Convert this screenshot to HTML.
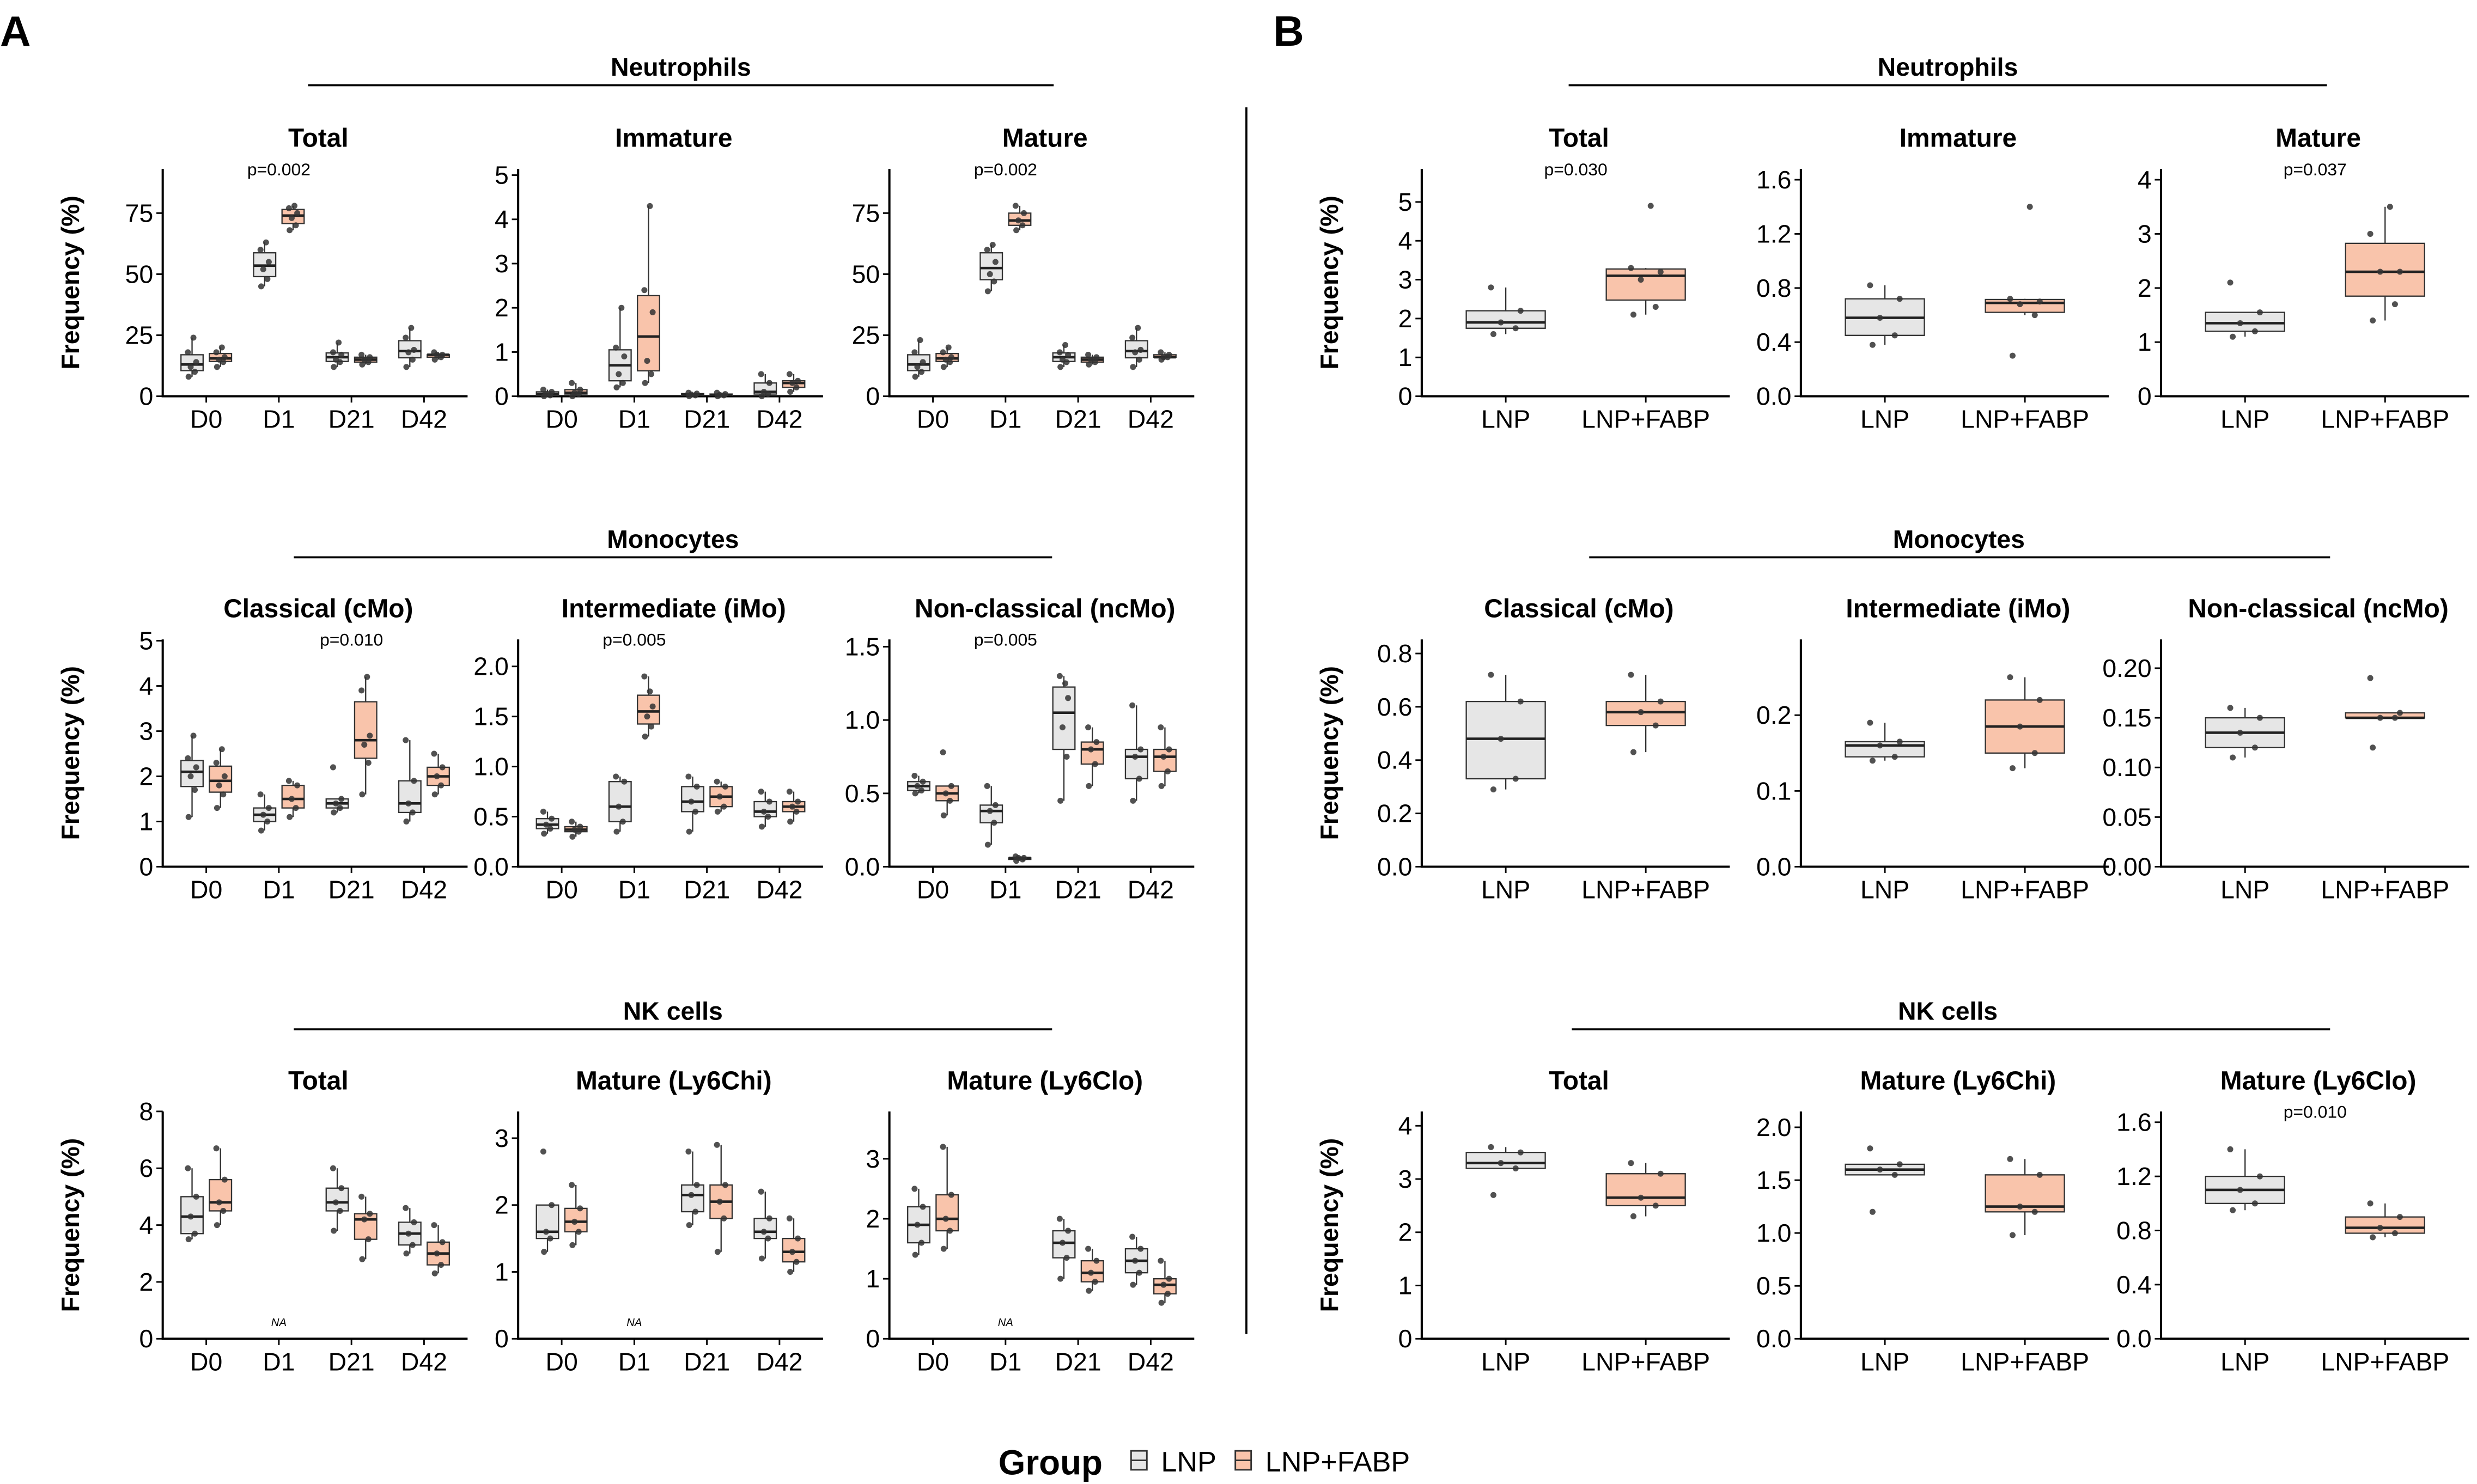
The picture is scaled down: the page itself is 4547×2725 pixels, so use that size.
<!DOCTYPE html>
<html><head><meta charset="utf-8">
<style>
html,body{margin:0;padding:0;background:#fff;}
svg{display:block;font-family:"Liberation Sans",Arial,sans-serif;}
</style></head>
<body>
<svg id="fig" width="4547" height="2725" viewBox="0 0 1568 940" preserveAspectRatio="none" xmlns="http://www.w3.org/2000/svg">
<text x="0" y="29" font-size="27" font-weight="bold">A</text>
<text x="806" y="29" font-size="27" font-weight="bold">B</text>
<line x1="789" y1="68" x2="789" y2="845" stroke="#000" stroke-width="1.3"/>
<g>
<text x="632" y="934" font-size="22" font-weight="bold">Group</text>
<rect x="716" y="919" width="10" height="12" fill="#e6e6e6" stroke="#333" stroke-width="1"/>
<line x1="716" y1="925" x2="726" y2="925" stroke="#333"/>
<text x="735" y="932" font-size="18">LNP</text>
<rect x="782" y="919" width="10" height="12" fill="#f9c4ab" stroke="#333" stroke-width="1"/>
<line x1="782" y1="925" x2="792" y2="925" stroke="#333"/>
<text x="801" y="932" font-size="18">LNP+FABP</text>
</g>
</svg>
<script>
// ---- categories ----
const daysCats = ["D0","D1","D21","D42"];
const groupCats = ["LNP","LNP+FABP"];
// ---- A: per-day data [D0,D1,D21,D42], LNP and FABP ----
const aNeuTotalLNP = [[8,10,12,14,18,24],[45,48,52,55,60,63],[12,14,15,17,18,22],[12,15,18,19,24,28]];
const aNeuTotalFABP = [[12,14,15,16,18,20],[68,70,73,75,77,78],[13,14,15,16,17],[15,16,17,17,18]];
const aNeuImmLNP = [[0,0.02,0.05,0.1,0.15],[0.2,0.3,0.5,0.9,1.1,2.0],[0,0.02,0.04,0.06,0.08],[0,0.05,0.1,0.3,0.5]];
const aNeuImmFABP = [[0,0.05,0.08,0.15,0.3],[0.3,0.5,0.8,1.9,2.4,4.3],[0,0.02,0.03,0.05,0.08],[0.1,0.2,0.3,0.35,0.5]];
const aNeuMatLNP = [[8,10,12,14,18,23],[43,47,50,55,60,62],[12,14,15,17,18,21],[12,15,18,19,24,28]];
const aNeuMatFABP = [[12,14,15,16,18,20],[68,70,72,75,78],[13,14,15,16,17],[15,16,16,17,18]];
const aCMoLNP = [[1.1,1.7,2,2.2,2.4,2.9],[0.8,1.0,1.15,1.3,1.6],[1.2,1.3,1.4,1.5,2.2],[1.0,1.2,1.4,1.9,2.8]];
const aCMoFABP = [[1.3,1.6,1.8,2.0,2.3,2.6],[1.1,1.3,1.5,1.8,1.9],[1.6,2.3,2.7,2.9,3.9,4.2],[1.6,1.8,2.0,2.2,2.5]];
const aIMoLNP = [[0.33,0.38,0.42,0.48,0.55],[0.35,0.45,0.6,0.85,0.9],[0.35,0.55,0.65,0.8,0.9],[0.4,0.5,0.55,0.65,0.75]];
const aIMoFABP = [[0.3,0.35,0.37,0.4,0.45],[1.3,1.4,1.5,1.6,1.9,1.75],[0.55,0.6,0.7,0.8,0.85],[0.45,0.55,0.6,0.65,0.75]];
const aNcMoLNP = [[0.5,0.52,0.55,0.58,0.62],[0.15,0.3,0.38,0.42,0.55],[0.45,0.75,0.95,1.15,1.3,1.25],[0.45,0.6,0.75,0.8,1.1]];
const aNcMoFABP = [[0.35,0.45,0.5,0.55,0.78],[0.04,0.05,0.06,0.06,0.07],[0.55,0.7,0.8,0.85,0.95],[0.55,0.65,0.75,0.8,0.95]];
const aNKTotalLNP = [[3.5,3.7,4.3,5.0,6.0],[],[3.8,4.5,4.8,5.3,6.0],[3.0,3.3,3.7,4.1,4.6]];
const aNKTotalFABP = [[4.0,4.5,4.8,5.6,6.7],[],[2.8,3.5,4.2,4.4,5.0],[2.3,2.6,3.0,3.4,4.0]];
const aNKHiLNP = [[1.3,1.5,1.6,2.0,2.8],[],[1.7,1.9,2.15,2.3,2.8],[1.2,1.5,1.6,1.8,2.2]];
const aNKHiFABP = [[1.4,1.6,1.75,1.95,2.3],[],[1.3,1.8,2.05,2.3,2.9],[1.0,1.15,1.3,1.5,1.8]];
const aNKLoLNP = [[1.4,1.6,1.9,2.2,2.5],[],[1.0,1.35,1.6,1.8,2.0],[0.9,1.1,1.3,1.5,1.7]];
const aNKLoFABP = [[1.5,1.8,2.0,2.4,3.2],[],[0.8,0.95,1.1,1.3,1.5],[0.6,0.75,0.9,1.0,1.3]];
// ---- B: [LNP, LNP+FABP] ----
const bNeuTotal = [[1.6,1.75,1.9,2.2,2.8],[2.1,2.3,3.0,3.2,3.3,4.9]];
const bNeuImm = [[0.38,0.45,0.58,0.72,0.82],[0.3,0.6,0.68,0.7,0.72,1.4]];
const bNeuMat = [[1.1,1.2,1.35,1.55,2.1],[1.4,1.7,2.3,2.3,3.0,3.5]];
const bCMo = [[0.29,0.33,0.48,0.62,0.72],[0.43,0.53,0.58,0.62,0.72]];
const bIMo = [[0.14,0.145,0.16,0.165,0.19],[0.13,0.15,0.185,0.22,0.25]];
const bNcMo = [[0.11,0.12,0.135,0.15,0.16],[0.12,0.15,0.15,0.155,0.19]];
const bNKTotal = [[2.7,3.2,3.3,3.5,3.6],[2.3,2.5,2.65,3.1,3.3]];
const bNKHi = [[1.2,1.55,1.6,1.65,1.8],[0.98,1.2,1.25,1.55,1.7]];
const bNKLo = [[0.95,1.0,1.1,1.2,1.4],[0.75,0.78,0.82,0.9,1.0]];
// ---- tick values ----
const ticks0to75 = [0,25,50,75];
const ticks0to5 = [0,1,2,3,4,5];
const ticksIMo = [0,0.5,1,1.5,2];
const ticksNcMo = [0,0.5,1,1.5];
const ticksNK8 = [0,2,4,6,8];
const ticks0to3 = [0,1,2,3];
const ticksBImm = [0,0.4,0.8,1.2,1.6];
const ticks0to4 = [0,1,2,3,4];
const ticksBCMo = [0,0.2,0.4,0.6,0.8];
const ticksBIMo = [0,0.1,0.2];
const ticksBNcMo = [0,0.05,0.1,0.15,0.2];
const ticksBHi = [0,0.5,1,1.5,2];

const NS = "http://www.w3.org/2000/svg";
const svg = document.getElementById('fig');
function mk(tag, attrs, parent){
  const e = document.createElementNS(NS, tag);
  for (const k in attrs) e.setAttribute(k, attrs[k]);
  (parent||svg).appendChild(e);
  return e;
}
function quant(s, p){ const h=(s.length-1)*p, lo=Math.floor(h), hi=Math.ceil(h); return s[lo]+(s[hi]-s[lo])*(h-lo); }
function stats(v){
  const s=[...v].sort((a,b)=>a-b);
  const q1=quant(s,.25), med=quant(s,.5), q3=quant(s,.75), iqr=q3-q1;
  const lo=s.find(x=>x>=q1-1.5*iqr), hi=[...s].reverse().find(x=>x<=q3+1.5*iqr);
  return {q1,med,q3,lo,hi};
}
const jit=[-2.5,2,-1,3,-3,1,0.5];
const FILL=["#e6e6e6","#f9c4ab"];

function drawBox(g, cx, w, vals, fill, ys, name){
  if(!vals.length) return;
  const st=stats(vals);
  const wl=mk('line',{x1:cx,x2:cx,y1:ys(st.lo),y2:ys(st.hi),stroke:'#333','stroke-width':0.8},g);
  
  
  const r=mk('rect',{x:cx-w/2,y:ys(st.q3),width:w,height:Math.max(0.5,ys(st.q1)-ys(st.q3)),fill:fill,stroke:'#333','stroke-width':0.8},g);
  
  
  const m=mk('line',{x1:cx-w/2,x2:cx+w/2,y1:ys(st.med),y2:ys(st.med),stroke:'#222','stroke-width':1.6},g);
  
  
  vals.forEach((v,i)=>{
    const c=mk('circle',{cx:cx+jit[i%jit.length]*w/16,cy:ys(v),r:1.9,fill:'#333','fill-opacity':0.85},g);
    
    
  });
}

function panel(o){
  const g=mk('g',{});
  
  
  const base=o.base, top=base-144, W=o.w;
  const ys=v=>base-(v/o.ymax)*(base-top);
  const ya=mk('line',{x1:o.x,x2:o.x,y1:top,y2:base,stroke:'#000','stroke-width':1.4},g);
  
  
  const xa=mk('line',{x1:o.x-0.7,x2:o.x+W,y1:base,y2:base,stroke:'#000','stroke-width':1.4},g);
  
  
  o.ticks.forEach(t=>{
    const y=ys(t);
    const tl=mk('line',{x1:o.x-4,x2:o.x,y1:y,y2:y,stroke:'#000','stroke-width':1},g);
    
    
    const tx=mk('text',{x:o.x-6,y:y+5.5,'font-size':16,'text-anchor':'end'},g);
    tx.textContent=t.toFixed(o.dec);
    
    
  });
  const n=o.cats.length, step=W/(n-1+1.2);
  const xs=i=>o.x+step*(0.6+i);
  o.cats.forEach((c,i)=>{
    const x=xs(i);
    const tl=mk('line',{x1:x,x2:x,y1:base,y2:base+4,stroke:'#000','stroke-width':1},g);
    
    
    const tx=mk('text',{x:x,y:base+20,'font-size':16,'text-anchor':'middle'},g);
    tx.textContent=c;
    
    
  });
  const tt=mk('text',{x:o.x+W/2+2,y:base-158,'font-size':16.5,'font-weight':'bold','text-anchor':'middle'},g);
  tt.textContent=o.title;
  
  
  if(o.ylab){
    const yl=mk('text',{x:0,y:0,'font-size':16,'font-weight':'bold','text-anchor':'middle',transform:`translate(${o.x-53},${base-72}) rotate(-90)`},g);
    yl.textContent='Frequency (%)';
    
    
  }
  if(o.lnp){
    o.cats.forEach((c,i)=>{
      drawBox(g, xs(i)-9, 14, o.lnp[i], FILL[0], ys, o.name+'-'+c+'-lnp');
      drawBox(g, xs(i)+9, 14, o.fabp[i], FILL[1], ys, o.name+'-'+c+'-fabp');
      if(!o.lnp[i].length){
        const na=mk('text',{x:xs(i),y:base-8,'font-size':7,'font-style':'italic','text-anchor':'middle'},g);
        na.textContent='NA';
        
        
      }
    });
  } else {
    o.data.forEach((v,i)=>drawBox(g, xs(i), 50, v, FILL[i], ys, o.name+'-'+i));
  }
  if(o.p){
    const px = o.pAt===undefined ? o.x+W/2 : xs(o.pAt);
    const pt=mk('text',{x:px,y:base-140,'font-size':11,'text-anchor':'middle'},g);
    pt.textContent=o.p;
    
    
  }
}
function header(txt, cx, x1, x2, y, name){
  const t=mk('text',{x:cx,y:y,'font-size':16,'font-weight':'bold','text-anchor':'middle'});
  t.textContent=txt;
  
  
  const l=mk('line',{x1:x1,x2:x2,y1:y+6,y2:y+6,stroke:'#000','stroke-width':1.3});
  
  
}
header('Neutrophils',431,195,667,48,'a-neutrophils');
header('Monocytes',426,186,666,347,'a-monocytes');
header('NK cells',426,186,666,646,'a-nk');
header('Neutrophils',1233,993,1473,48,'b-neutrophils');
header('Monocytes',1240,1006,1475,347,'b-monocytes');
header('NK cells',1233,995,1475,646,'b-nk');

const AX=[103,328,563], BX=[900,1140,1368], AW=193, BW=195, RB=[251,549,848];
panel({name:'a-neu-total',x:AX[0],w:AW,base:RB[0],ymax:93.1,ticks:ticks0to75,dec:0,cats:daysCats,title:'Total',ylab:1,lnp:aNeuTotalLNP,fabp:aNeuTotalFABP,p:'p=0.002',pAt:1});
panel({name:'a-neu-immature',x:AX[1],w:AW,base:RB[0],ymax:5.14,ticks:ticks0to5,dec:0,cats:daysCats,title:'Immature',lnp:aNeuImmLNP,fabp:aNeuImmFABP});
panel({name:'a-neu-mature',x:AX[2],w:AW,base:RB[0],ymax:93.1,ticks:ticks0to75,dec:0,cats:daysCats,title:'Mature',lnp:aNeuMatLNP,fabp:aNeuMatFABP,p:'p=0.002',pAt:1});
panel({name:'a-cmo',x:AX[0],w:AW,base:RB[1],ymax:5.03,ticks:ticks0to5,dec:0,cats:daysCats,title:'Classical (cMo)',ylab:1,lnp:aCMoLNP,fabp:aCMoFABP,p:'p=0.010',pAt:2});
panel({name:'a-imo',x:AX[1],w:AW,base:RB[1],ymax:2.27,ticks:ticksIMo,dec:1,cats:daysCats,title:'Intermediate (iMo)',lnp:aIMoLNP,fabp:aIMoFABP,p:'p=0.005',pAt:1});
panel({name:'a-ncmo',x:AX[2],w:AW,base:RB[1],ymax:1.55,ticks:ticksNcMo,dec:1,cats:daysCats,title:'Non-classical (ncMo)',lnp:aNcMoLNP,fabp:aNcMoFABP,p:'p=0.005',pAt:1});
panel({name:'a-nk-total',x:AX[0],w:AW,base:RB[2],ymax:8,ticks:ticksNK8,dec:0,cats:daysCats,title:'Total',ylab:1,lnp:aNKTotalLNP,fabp:aNKTotalFABP});
panel({name:'a-nk-ly6chi',x:AX[1],w:AW,base:RB[2],ymax:3.4,ticks:ticks0to3,dec:0,cats:daysCats,title:'Mature (Ly6Chi)',lnp:aNKHiLNP,fabp:aNKHiFABP});
panel({name:'a-nk-ly6clo',x:AX[2],w:AW,base:RB[2],ymax:3.79,ticks:ticks0to3,dec:0,cats:daysCats,title:'Mature (Ly6Clo)',lnp:aNKLoLNP,fabp:aNKLoFABP});

panel({name:'b-neu-total',x:BX[0],w:BW,base:RB[0],ymax:5.85,ticks:ticks0to5,dec:0,cats:groupCats,title:'Total',ylab:1,data:bNeuTotal,p:'p=0.030'});
panel({name:'b-neu-immature',x:BX[1],w:BW,base:RB[0],ymax:1.68,ticks:ticksBImm,dec:1,cats:groupCats,title:'Immature',data:bNeuImm});
panel({name:'b-neu-mature',x:BX[2],w:BW,base:RB[0],ymax:4.2,ticks:ticks0to4,dec:0,cats:groupCats,title:'Mature',data:bNeuMat,p:'p=0.037'});
panel({name:'b-cmo',x:BX[0],w:BW,base:RB[1],ymax:0.853,ticks:ticksBCMo,dec:1,cats:groupCats,title:'Classical (cMo)',ylab:1,data:bCMo});
panel({name:'b-imo',x:BX[1],w:BW,base:RB[1],ymax:0.3,ticks:ticksBIMo,dec:1,cats:groupCats,title:'Intermediate (iMo)',data:bIMo});
panel({name:'b-ncmo',x:BX[2],w:BW,base:RB[1],ymax:0.229,ticks:ticksBNcMo,dec:2,cats:groupCats,title:'Non-classical (ncMo)',data:bNcMo});
panel({name:'b-nk-total',x:BX[0],w:BW,base:RB[2],ymax:4.27,ticks:ticks0to4,dec:0,cats:groupCats,title:'Total',ylab:1,data:bNKTotal});
panel({name:'b-nk-ly6chi',x:BX[1],w:BW,base:RB[2],ymax:2.15,ticks:ticksBHi,dec:1,cats:groupCats,title:'Mature (Ly6Chi)',data:bNKHi});
panel({name:'b-nk-ly6clo',x:BX[2],w:BW,base:RB[2],ymax:1.68,ticks:ticksBImm,dec:1,cats:groupCats,title:'Mature (Ly6Clo)',data:bNKLo,p:'p=0.010'});
</script>
</body></html>
